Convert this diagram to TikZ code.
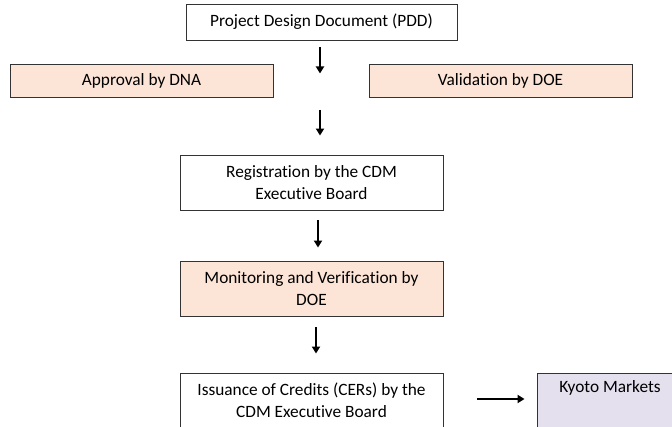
\documentclass[tikz,border=0pt]{standalone}
\usepackage{fontspec}
\setmainfont{Carlito}[RawFeature=-liga]
\usepackage{tikz}
\usetikzlibrary{arrows.meta}
\usepackage{xcolor}
\definecolor{peach}{HTML}{FCE4D6}
\definecolor{lavender}{HTML}{E4E0EE}
\begin{document}
\begin{tikzpicture}[x=1pt, y=-1pt,
  box/.style={draw=black!80, line width=0.9pt, minimum width=263pt, minimum height=55pt,
    inner sep=0pt, align=center, font=\fontsize{17.3}{22}\selectfont},
  flow/.style={line width=2.3pt, -{Triangle[length=7pt, width=8pt]}}]
  \useasboundingbox (0,0) rectangle (672,427);
  \clip (0,0) rectangle (672,427);
  \node[box, minimum width=271pt, minimum height=36pt] (bPdd) at (321.5,22) {Project Design Document (PDD)};
  \node[box, fill=peach, minimum height=33pt] (bDna) at (141.5,80.5) {Approval by DNA};
  \node[box, fill=peach, minimum height=33pt] (bDoe) at (500.5,80.5) {Validation by DOE};
  \node[box] (bReg) at (311.5,182.5) {Registration by the CDM\\Executive Board};
  \node[box, fill=peach] (bMon) at (311.5,288.5) {Monitoring and Verification by\\DOE};
  \node[box] (bIss) at (311.5,400.5) {Issuance of Credits (CERs) by the\\CDM Executive Board};
  \node[box, fill=lavender, minimum width=146pt] (bKyoto) at (610,400.5) {Kyoto Markets\\ \strut};
  \coordinate (pGap) at (320,91.5);
  \draw[flow, shorten <=7pt, shorten >=18pt] (bPdd.south -| pGap) -- (pGap);
  \draw[flow, shorten <=18.5pt, shorten >=19pt] (pGap) -- (bReg.north -| pGap);
  \draw[flow, shorten <=10pt, shorten >=13pt] ([xshift=6.5pt]bReg.south) -- ([xshift=6.5pt]bMon.north);
  \draw[flow, shorten <=11pt, shorten >=19pt] ([xshift=4.5pt]bMon.south) -- ([xshift=4.5pt]bIss.north);
  \draw[flow, shorten <=34pt, shorten >=12pt] ([yshift=1.5pt]bIss.east) -- ([yshift=1.5pt]bKyoto.west);
\end{tikzpicture}
\end{document}
